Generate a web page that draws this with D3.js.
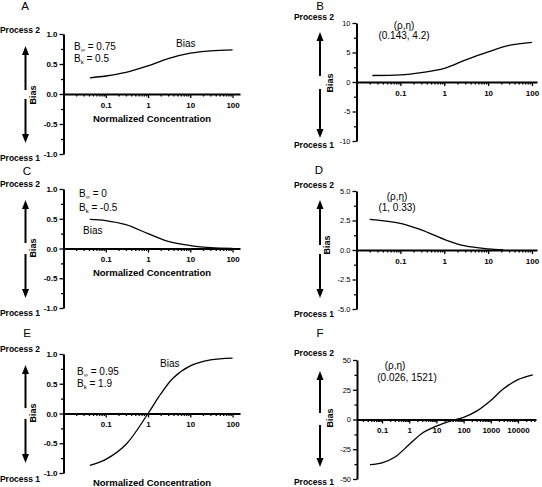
<!DOCTYPE html>
<html><head><meta charset="utf-8">
<script src="https://cdn.jsdelivr.net/npm/d3@7"></script>
<style>
body{margin:0;background:#fff}
svg{display:block}
text{font-family:"Liberation Sans",Arial,Helvetica,sans-serif;fill:#000}
</style>
</head><body>
<svg id="chart" width="542" height="487"></svg>
<script>
// ---------- data ----------
const concA = [0.042, 0.1, 0.3, 1, 3, 10, 30, 100];
const biasA = [0.27, 0.30, 0.36, 0.47, 0.59, 0.68, 0.72, 0.735];

const concB = [0.023, 0.1, 0.3, 1, 3, 10, 30, 100];
const biasB = [1.1, 1.2, 1.6, 2.3, 3.7, 5.1, 6.2, 6.7];

const concC = [0.042, 0.1, 0.3, 1, 3, 10, 30, 100];
const biasC = [0.49, 0.47, 0.40, 0.25, 0.12, 0.05, 0.015, 0.003];

const concD = [0.02, 0.1, 0.3, 1, 3, 10, 22];
const biasD = [2.6, 2.25, 1.7, 0.9, 0.34, 0.1, 0.03];

const concE = [0.042, 0.1, 0.3, 1, 2, 4, 10, 30, 100];
const biasE = [-0.87, -0.77, -0.52, 0.0, 0.33, 0.6, 0.8, 0.9, 0.93];

const concF = [0.036, 0.1, 0.3, 1, 3, 10, 30, 100, 300, 1000, 3000, 10000, 35000];
const biasF = [-38, -36.5, -31.5, -21, -11.5, -5.5, -1.5, 1.8, 7, 16, 26, 33.5, 37.5];

const xTickValues = [0.1, 1, 10, 100];
const xTickLabels = ["0.1", "1", "10", "100"];
const xTickValuesF = [0.1, 1, 10, 100, 1000, 10000];
const xTickLabelsF = ["0.1", "1", "10", "100", "1000", "10000"];

const yTicksUnit = [-1, -0.5, 0, 0.5, 1];
const yLabelsUnit = ["-1.0", "-0.5", "0.0", "0.5", "1.0"];
const yTicksB = [-10, -5, 0, 5, 10];
const yLabelsB = ["-10", "-5", "0", "5", "10"];
const yTicksD = [-5, -2.5, 0, 2.5, 5];
const yLabelsD = ["-5.0", "-2.5", "0.0", "2.5", "5.0"];
const yTicksF = [-50, -25, 0, 25, 50];
const yLabelsF = ["-50", "-25", "0", "25", "50"];

const panelLetters = ["A", "B", "C", "D", "E", "F"];
const processTop = "Process 2";
const processBottom = "Process 1";
const yAxisTitle = "Bias";
const xAxisTitle = "Normalized Concentration";

// ---------- layout ----------
const L = [63.5, 240];   // left column axis extent
const R = [356.5, 537];  // right column axis extent
const panels = [
  {letter:panelLetters[0], conc:concA, bias:biasA, xDom:[0.01,150], xr:L, top:34, bottom:154, yT:yTicksUnit, yL:yLabelsUnit, yMinor:0.25, yBold:true,
   xv:xTickValues, xl:xTickLabels, letterPos:[25,10], procX:20, p2y:33, p1y:161, arrX:25.5, upFrom:90, upTo:46, dnFrom:99, dnTo:143,
   biasLbl:[36,95], xTitleY:121.5,
   ann:[{t:"sub", main:"B", sub:"\u221E", rest:" = 0.75", x:74, y:49.5},{t:"sub", main:"B", sub:"k", rest:" = 0.5", x:74, y:61.5},{t:"plain", s:"Bias", x:176, y:46.5, a:"start"}]},
  {letter:panelLetters[1], conc:concB, bias:biasB, xDom:[0.01,130], xr:R, top:23, bottom:141, yT:yTicksB, yL:yLabelsB, yMinor:2.5, yBold:false,
   xv:xTickValues, xl:xTickLabels, letterPos:[320,10], procX:314, p2y:19.5, p1y:148, arrX:320, upFrom:76, upTo:32, dnFrom:89, dnTo:138,
   biasLbl:[333,83], xTitleY:null,
   ann:[{t:"plain", s:"(\u03C1,\u03B7)", x:404, y:29, a:"middle"},{t:"plain", s:"(0.143, 4.2)", x:404, y:39, a:"middle"}]},
  {letter:panelLetters[2], conc:concC, bias:biasC, xDom:[0.01,150], xr:L, top:189, bottom:308, yT:yTicksUnit, yL:yLabelsUnit, yMinor:0.25, yBold:true,
   xv:xTickValues, xl:xTickLabels, letterPos:[27,174.5], procX:20, p2y:187, p1y:316, arrX:25.5, upFrom:243, upTo:200, dnFrom:254, dnTo:298,
   biasLbl:[36,248], xTitleY:275.5,
   ann:[{t:"sub", main:"B", sub:"\u221E", rest:" = 0", x:79, y:196.5},{t:"sub", main:"B", sub:"k", rest:" = -0.5", x:79, y:210.5},{t:"plain", s:"Bias", x:83, y:233.5, a:"start"}]},
  {letter:panelLetters[3], conc:concD, bias:biasD, xDom:[0.01,130], xr:R, top:191, bottom:309, yT:yTicksD, yL:yLabelsD, yMinor:1.25, yBold:false,
   xv:xTickValues, xl:xTickLabels, letterPos:[319,174], procX:314, p2y:188, p1y:317, arrX:320, upFrom:245, upTo:200, dnFrom:254, dnTo:298,
   biasLbl:[330,245], xTitleY:null,
   ann:[{t:"plain", s:"(\u03C1,\u03B7)", x:397, y:200, a:"middle"},{t:"plain", s:"(1, 0.33)", x:397, y:211, a:"middle"}]},
  {letter:panelLetters[4], conc:concE, bias:biasE, xDom:[0.01,150], xr:L, top:354, bottom:473, yT:yTicksUnit, yL:yLabelsUnit, yMinor:0.25, yBold:true,
   xv:xTickValues, xl:xTickLabels, letterPos:[27,337], procX:20, p2y:352, p1y:482, arrX:25.5, upFrom:408, upTo:365, dnFrom:419, dnTo:463,
   biasLbl:[36,413], xTitleY:485.5,
   ann:[{t:"sub", main:"B", sub:"\u221E", rest:" = 0.95", x:77, y:374.5},{t:"sub", main:"B", sub:"k", rest:" = 1.9", x:77, y:386.5},{t:"plain", s:"Bias", x:160, y:366.5, a:"start"}]},
  {letter:panelLetters[5], conc:concF, bias:biasF, xDom:[0.012,46000], xr:[357,536], top:360, bottom:479, yT:yTicksF, yL:yLabelsF, yMinor:12.5, yBold:false,
   xv:xTickValuesF, xl:xTickLabelsF, letterPos:[320,337], procX:314, p2y:356, p1y:485, arrX:320, upFrom:413, upTo:371, dnFrom:425, dnTo:467,
   biasLbl:[333,418], xTitleY:null,
   ann:[{t:"plain", s:"(\u03C1,\u03B7)", x:395, y:369, a:"middle"},{t:"plain", s:"(0.026, 1521)", x:407, y:381, a:"middle"}]}
];

const svg = d3.select("#chart");
svg.append("rect").attr("width",542).attr("height",487).attr("fill","#fff");

function minorLogTicks(dom) {
  const out = [];
  for (let e = -3; e <= 6; e++) {
    for (let m = 2; m <= 9; m++) {
      const v = m * Math.pow(10, e);
      if (v > dom[0] && v < dom[1]) out.push(v);
    }
  }
  return out;
}

function arrow(g, x, from, to) {
  const dir = Math.sign(to - from);
  const headLen = 9, halfW = 3.5;
  g.append("line").attr("x1", x).attr("x2", x).attr("y1", from).attr("y2", to - dir*headLen)
    .attr("stroke","#000").attr("stroke-width",2);
  g.append("path").attr("d", `M${x-halfW},${to - dir*headLen} L${x+halfW},${to - dir*headLen} L${x},${to} Z`).attr("fill","#000");
}

panels.forEach(p => {
  const g = svg.append("g");
  const x = d3.scaleLog().domain(p.xDom).range(p.xr);
  const y = d3.scaleLinear().domain([p.yT[0], p.yT[p.yT.length-1]]).range([p.bottom, p.top]);
  const x0 = p.xr[0];

  // y minor ticks
  const yMinorVals = d3.range(p.yT[0], p.yT[p.yT.length-1] + 1e-9, p.yMinor).filter(v => !p.yT.some(t => Math.abs(t - v) < 1e-9));
  g.append("g").attr("transform", `translate(${x0},0)`)
    .call(d3.axisLeft(y).tickValues(yMinorVals).tickSize(2.5).tickSizeOuter(0).tickFormat(""))
    .call(s => s.select(".domain").remove())
    .call(s => s.selectAll("line").attr("stroke-width",1.3));
  // y major axis
  g.append("g").attr("transform", `translate(${x0},0)`)
    .call(d3.axisLeft(y).tickValues(p.yT).tickSize(4).tickSizeOuter(0).tickPadding(2).tickFormat((d,i) => p.yL[i]))
    .call(s => s.select(".domain").attr("stroke-width",2))
    .call(s => s.selectAll("line").attr("stroke-width",1.3))
    .call(s => s.selectAll("text").attr("font-family","Liberation Sans, Arial, sans-serif")
      .attr("font-size", p.yBold ? 8 : 7.5).attr("font-weight", p.yBold ? "bold" : "normal").attr("fill", p.yBold ? "#000" : "#222"));

  // x axis at y = 0
  const yz = y(0);
  g.append("g").attr("transform", `translate(0,${yz})`)
    .call(d3.axisBottom(x).tickValues(minorLogTicks(p.xDom)).tickSize(2.5).tickSizeOuter(0).tickFormat(""))
    .call(s => s.select(".domain").remove())
    .call(s => s.selectAll("line").attr("stroke-width",1.3));
  g.append("g").attr("transform", `translate(0,${yz})`)
    .call(d3.axisBottom(x).tickValues(p.xv).tickSize(4).tickSizeOuter(0).tickPadding(4).tickFormat((d,i) => p.xl[i]))
    .call(s => s.select(".domain").attr("stroke-width",2))
    .call(s => s.selectAll("line").attr("stroke-width",1.3))
    .call(s => s.selectAll("text").attr("font-family","Liberation Sans, Arial, sans-serif")
      .attr("font-size",8).attr("font-weight","bold"));

  // curve
  const pts = p.conc.map((c,i) => [c, p.bias[i]]);
  g.append("path").datum(pts)
    .attr("d", d3.line().x(d => x(d[0])).y(d => y(d[1])).curve(d3.curveCatmullRom.alpha(0.5)))
    .attr("fill","none").attr("stroke","#000").attr("stroke-width",1.3);

  // panel letter
  g.append("text").attr("x", p.letterPos[0]).attr("y", p.letterPos[1]).attr("text-anchor","middle")
    .attr("font-size",11.5).text(p.letter);

  // process labels
  g.append("text").attr("x", p.procX).attr("y", p.p2y).attr("text-anchor","middle")
    .attr("font-size",8.5).attr("font-weight","bold").text(processTop);
  g.append("text").attr("x", p.procX).attr("y", p.p1y).attr("text-anchor","middle")
    .attr("font-size",8.5).attr("font-weight","bold").text(processBottom);

  // arrows
  arrow(g, p.arrX, p.upFrom, p.upTo);
  arrow(g, p.arrX, p.dnFrom, p.dnTo);

  // Bias y title
  g.append("text").attr("transform", `translate(${p.biasLbl[0]},${p.biasLbl[1]}) rotate(-90)`)
    .attr("text-anchor","middle").attr("font-size",9).attr("font-weight","bold").text(yAxisTitle);

  // x title
  if (p.xTitleY !== null) {
    g.append("text").attr("x", 152).attr("y", p.xTitleY).attr("text-anchor","middle")
      .attr("font-size",9.5).attr("font-weight","bold").text(xAxisTitle);
  }

  // annotations
  p.ann.forEach(a => {
    if (a.t === "sub") {
      const t = g.append("text").attr("x", a.x).attr("y", a.y).attr("font-size",10).attr("fill","#111");
      t.append("tspan").text(a.main);
      t.append("tspan").attr("font-size",6).attr("dy",2).text(a.sub);
      t.append("tspan").attr("dy",-2).text(a.rest);
    } else {
      g.append("text").attr("x", a.x).attr("y", a.y).attr("text-anchor", a.a).attr("font-size",10).attr("fill","#111").text(a.s);
    }
  });
});
</script>
</body></html>
